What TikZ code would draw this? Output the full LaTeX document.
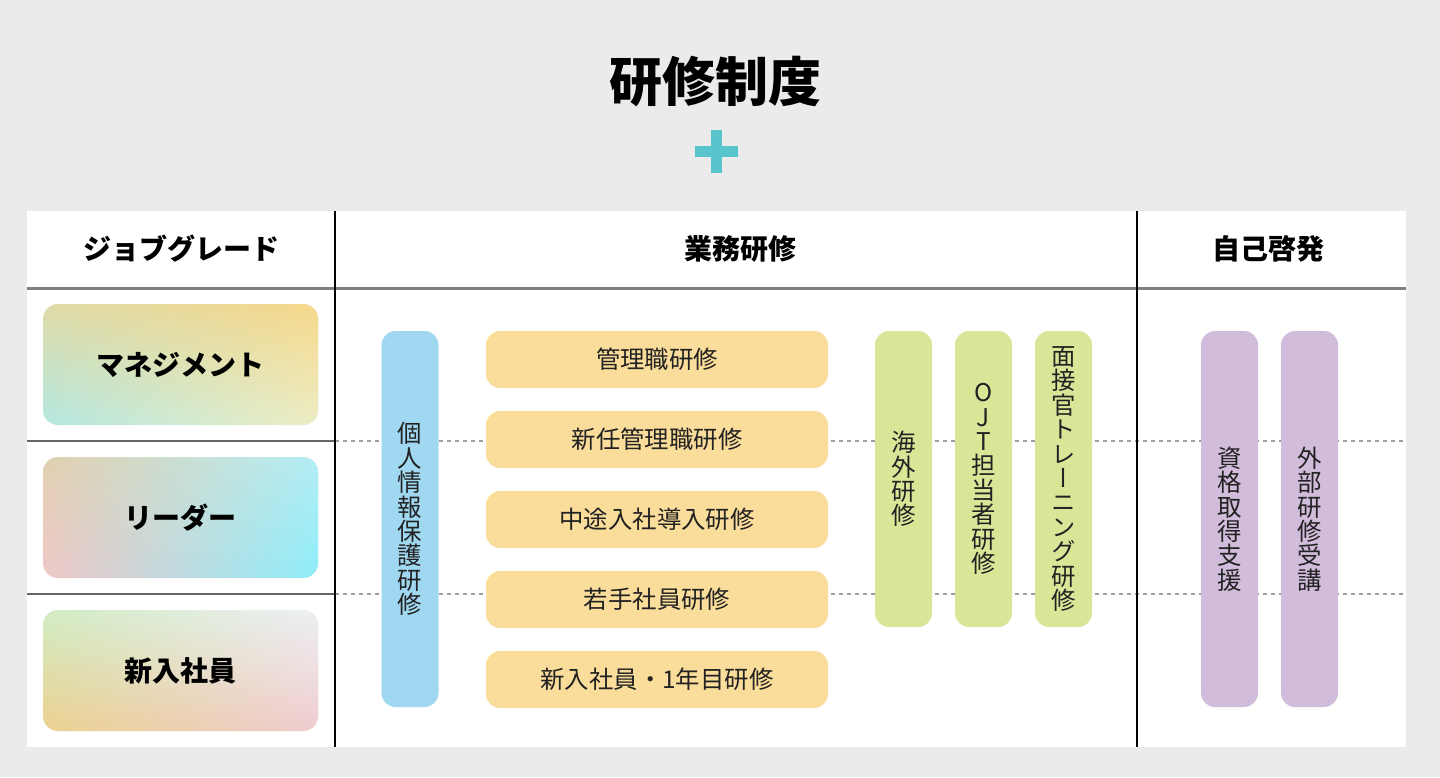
\documentclass[tikz,border=0pt]{standalone}
\usepackage{fontspec}
\setmainfont{Noto Sans CJK JP}
\newfontfamily\vjp{Noto Sans CJK JP}[RawFeature=+vert]
\usepackage{tikz}
\usetikzlibrary{fadings}
\definecolor{paper}{HTML}{EBEBEB}
\definecolor{ink}{HTML}{222222}
\definecolor{plusteal}{HTML}{58C4CC}
\definecolor{blueset}{HTML}{A0D8F2}
\definecolor{orangeset}{HTML}{FBDD9B}
\definecolor{greenset}{HTML}{D8E698}
\definecolor{purpleset}{HTML}{D1BDDB}
% grade gradients: left top, left bottom, right top, right bottom
\definecolor{mgLT}{HTML}{E0DCA8}
\definecolor{mgLB}{HTML}{B4E8E2}
\definecolor{mgRT}{HTML}{F6D88C}
\definecolor{mgRB}{HTML}{EEEEC4}
\definecolor{ldLT}{HTML}{E2D0B0}
\definecolor{ldLB}{HTML}{F0C8C8}
\definecolor{ldRT}{HTML}{B4EEF6}
\definecolor{ldRB}{HTML}{8EEEFA}
\definecolor{nwLT}{HTML}{D2ECC4}
\definecolor{nwLB}{HTML}{ECD290}
\definecolor{nwRT}{HTML}{EEF0F4}
\definecolor{nwRB}{HTML}{F0CCD0}

\begin{document}
\begin{tikzpicture}[x=0.5pt,y=0.5pt,
		grade/.style n args={4}{rectangle,rounded corners=7.5pt,inner sep=0pt,
			minimum width=137.5pt,minimum height=60.5pt,
			font=\fontsize{14}{16}\selectfont\bfseries,text=black,
			path picture={
				\shade[top color=#1,bottom color=#2] (path picture bounding box.south west) rectangle (path picture bounding box.north east);
				\shade[top color=#3,bottom color=#4,path fading=west] (path picture bounding box.south west) rectangle (path picture bounding box.north east);
			}},
		head/.style={font=\fontsize{14}{16}\selectfont\bfseries,text=black},
		course/.style={rectangle,rounded corners=7pt,inner sep=0pt,text=ink},
		wide/.style={course,fill=orangeset,minimum width=171pt,minimum height=28.5pt,
			font=\fontsize{12.2}{14}\selectfont},
		tall/.style={course,minimum width=28.5pt,align=center,
			font=\vjp\fontsize{12.2}{12.2}\selectfont},
		rowline/.style={draw=black!60,line width=1.2pt},
		gridline/.style={draw=black,line width=0.75pt},
		dots/.style={draw=black!38,line width=1pt,dash pattern=on 2pt off 2pt},
		]
		\useasboundingbox (0,0) rectangle (1440,-777);
		\fill[paper] (0,0) rectangle (1440,-777);

		% title
		\node[font=\fontsize{26.5}{30}\selectfont\bfseries] (title) at (715,-82) {研修制度};
		\fill[plusteal] (694.5,-146) rectangle (737.5,-157);
		\fill[plusteal] (710.5,-130) rectangle (721.5,-173);

		% table
		\fill[white] (27,-211) rectangle (1406,-747);
		\draw[dots] (335,-441) -- (1406,-441);
		\draw[dots] (335,-594) -- (1406,-594);
		\draw[rowline] (27,-441) -- (335,-441);
		\draw[rowline] (27,-594) -- (335,-594);
		\draw[draw=black!50,line width=1.5pt] (27,-288) -- (1406,-288);
		\draw[gridline] (335,-211) -- (335,-747);
		\draw[gridline] (1137,-211) -- (1137,-747);

		\node[head] (h1) at (181,-249) {ジョブグレード};
		\node[head] (h2) at (740,-249) {業務研修};
		\node[head] (h3) at (1268,-249) {自己啓発};

		% job grades
		\node[grade={mgLT}{mgLB}{mgRT}{mgRB}] (g1) at (180.5,-364.5) {マネジメント};
		\node[grade={ldLT}{ldLB}{ldRT}{ldRB}] (g2) at (180.5,-517.5) {リーダー};
		\node[grade={nwLT}{nwLB}{nwRT}{nwRB}] (g3) at (180.5,-670.5) {新入社員};

		% business training
		\node[tall,fill=blueset,minimum height=188pt] (privacy) at (410,-519) {個\\人\\情\\報\\保\\護\\研\\修};

		\node[wide] (c1) at (657,-359.5) {管理職研修};
		\node[wide] (c2) at (657,-439.5) {新任管理職研修};
		\node[wide] (c3) at (657,-519.5) {中途入社導入研修};
		\node[wide] (c4) at (657,-599.5) {若手社員研修};
		\node[wide] (c5) at (657,-679.5) {新入社員・1年目研修};

		\node[tall,fill=greenset,minimum height=148pt] (abroad) at (903.5,-479) {海\\外\\研\\修};
		\node[tall,fill=greenset,minimum height=148pt] (ojt) at (983.5,-479) {O\\J\\T\\担\\当\\者\\研\\修};
		\node[tall,fill=greenset,minimum height=148pt] (interview) at (1063.5,-479) {面\\接\\官\\ト\\レ\\ー\\ニ\\ン\\グ\\研\\修};

		% self development
		\node[tall,fill=purpleset,minimum height=188pt] (license) at (1229.5,-519) {資\\格\\取\\得\\支\\援};
		\node[tall,fill=purpleset,minimum height=188pt] (outside) at (1309.5,-519) {外\\部\\研\\修\\受\\講};
	\end{tikzpicture}
\end{document}
